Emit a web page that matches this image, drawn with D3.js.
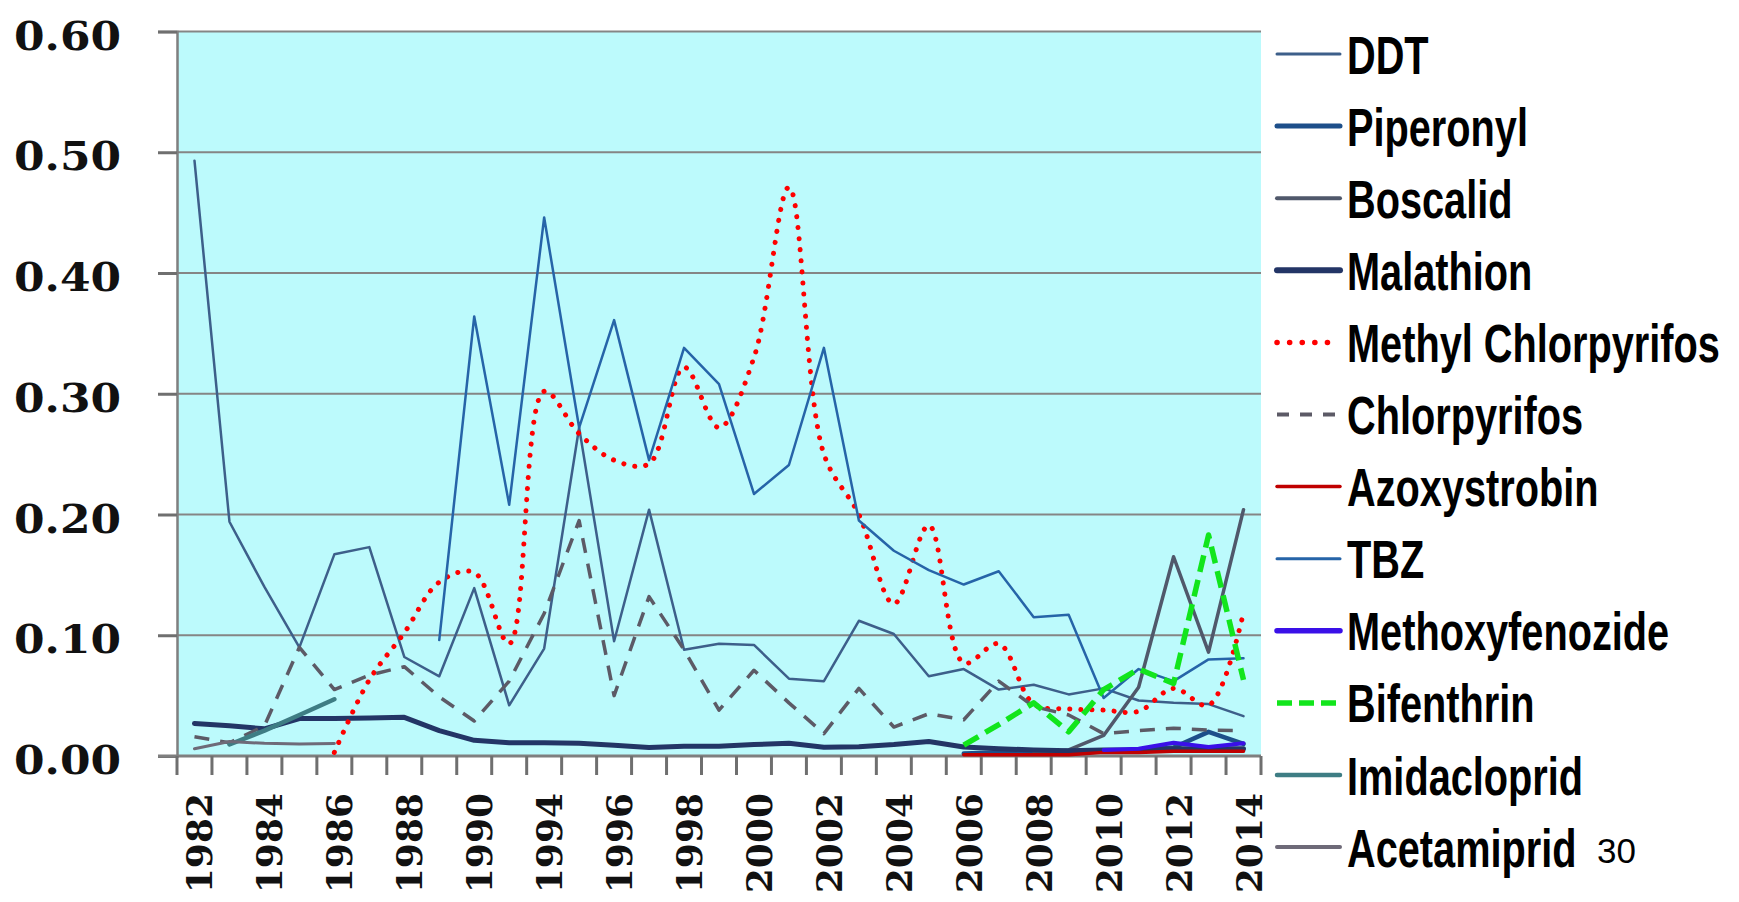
<!DOCTYPE html>
<html>
<head>
<meta charset="utf-8">
<script src="https://cdn.jsdelivr.net/npm/d3@7"></script>
<style>
  html, body { margin: 0; padding: 0; background: #ffffff; }
  svg { display: block; }
</style>
</head>
<body>
<div id="chart"></div>
<script>
// ---------------- DATA ----------------
const categories = ["1982","1983","1984","1985","1986","1987","1988","1989","1990","1992",
  "1994","1995","1996","1997","1998","1999","2000","2001","2002","2003","2004","2005",
  "2006","2007","2008","2009","2010","2011","2012","2013","2014"];
const xTickLabels = ["1982","1984","1986","1988","1990","1994","1996","1998","2000",
  "2002","2004","2006","2008","2010","2012","2014"];
const yTicks = [0, 0.1, 0.2, 0.3, 0.4, 0.5, 0.6];

const seriesNames = ["DDT","Piperonyl","Boscalid","Malathion","Methyl Chlorpyrifos",
  "Chlorpyrifos","Azoxystrobin","TBZ","Methoxyfenozide","Bifenthrin","Imidacloprid","Acetamiprid"];

const ddt = [0.493,0.194,0.140,0.090,0.167,0.173,0.082,0.066,0.139,0.042,
  0.089,0.272,0.095,0.204,0.088,0.093,0.092,0.064,0.062,0.112,0.101,0.066,
  0.072,0.055,0.059,0.051,0.056,0.046,0.044,0.043,0.033];
const piperonyl = [null,null,null,null,null,null,null,null,null,null,
  null,null,null,null,null,null,null,null,null,null,null,null,
  0.002,0.003,0.002,0.002,0.004,0.005,0.007,0.020,0.010];
const boscalid = [null,null,null,null,null,null,null,null,null,null,
  null,null,null,null,null,null,null,null,null,null,null,null,
  null,null,0.002,0.005,0.017,0.057,0.165,0.086,0.204];
const malathion = [0.027,0.025,0.0225,0.031,0.031,0.0315,0.032,0.021,0.013,0.011,
  0.011,0.0105,0.009,0.007,0.008,0.008,0.0095,0.0105,0.0072,0.0077,0.0095,0.012,
  0.0075,0.006,0.005,0.0043,0.005,0.005,0.006,0.006,0.006];
const methylChlorpyrifos = [null,null,null,null,0.003,0.063,0.102,0.144,0.152,0.093,
  0.302,0.267,0.245,0.242,0.322,0.272,0.330,0.471,0.250,0.200,0.126,0.191,
  0.077,0.093,0.043,0.039,0.038,0.037,0.056,0.042,0.119];
const chlorpyrifos = [0.016,0.011,0.025,0.090,0.055,0.067,0.074,0.049,0.029,0.062,
  0.118,0.195,0.050,0.132,0.088,0.038,0.071,0.044,0.0185,0.056,0.024,0.035,
  0.030,0.062,0.041,0.034,0.0185,0.021,0.023,0.0215,0.021];
const azoxystrobin = [null,null,null,null,null,null,null,null,null,null,
  null,null,null,null,null,null,null,null,null,null,null,null,
  0.001,0.001,0.001,0.001,0.003,0.003,0.004,0.004,0.004];
const tbz = [null,null,null,null,null,null,null,0.096,0.364,0.208,
  0.446,0.272,0.361,0.245,0.338,0.308,0.217,0.241,0.338,0.195,0.170,0.154,
  0.142,0.153,0.115,0.117,0.048,0.072,0.062,0.080,0.081];
const methoxyfenozide = [null,null,null,null,null,null,null,null,null,null,
  null,null,null,null,null,null,null,null,null,null,null,null,
  null,null,null,null,0.005,0.006,0.011,0.0075,0.0105];
const bifenthrin = [null,null,null,null,null,null,null,null,null,null,
  null,null,null,null,null,null,null,null,null,null,null,null,
  0.009,0.026,0.044,0.020,0.055,0.072,0.060,0.183,0.063];
const imidacloprid = [null,0.0095,0.021,0.034,0.047,null,null,null,null,null,
  null,null,null,null,null,null,null,null,null,null,null,null,
  null,null,null,null,null,null,null,null,null];
const acetamiprid = [0.006,0.012,0.0105,0.010,0.0103,null,null,null,null,null,
  null,null,null,null,null,null,null,null,null,null,null,null,
  null,null,null,null,null,null,null,null,null];

const seriesValues = [ddt, piperonyl, boscalid, malathion, methylChlorpyrifos,
  chlorpyrifos, azoxystrobin, tbz, methoxyfenozide, bifenthrin, imidacloprid, acetamiprid];

// ---------------- STYLES ----------------
const styles = {
  "DDT":                 {color:"#3d5f8a", w:2.5, lw:3,   dash:null},
  "Piperonyl":           {color:"#1d4f8a", w:4.5, lw:5,   dash:null},
  "Boscalid":            {color:"#50586b", w:3.5, lw:4,   dash:null},
  "Malathion":           {color:"#233566", w:5,   lw:6,   dash:null},
  "Methyl Chlorpyrifos": {color:"#ff0000", w:5,   lw:5.5, dash:"0.1 11", cap:"round", smooth:true},
  "Chlorpyrifos":        {color:"#5c5a66", w:3.5, lw:4,   dash:"15 11"},
  "Azoxystrobin":        {color:"#c00000", w:3.5, lw:3.5, dash:null},
  "TBZ":                 {color:"#2664a8", w:2.5, lw:3,   dash:null},
  "Methoxyfenozide":     {color:"#3a10e8", w:4,   lw:5.5, dash:null},
  "Bifenthrin":          {color:"#12e51c", w:5.5, lw:5.5, dash:"17 8"},
  "Imidacloprid":        {color:"#3e7d84", w:4.5, lw:4.5, dash:null},
  "Acetamiprid":         {color:"#6e6a78", w:3,   lw:4,   dash:null}
};

// ---------------- LAYOUT ----------------
const W = 1739, H = 902;
const plot = {left:177, right:1261, top:31.5, bottom:756};

const svg = d3.select("#chart").append("svg")
  .attr("width", W).attr("height", H);

const x = d3.scaleBand().domain(categories).range([plot.left, plot.right]).padding(0);
const y = d3.scaleLinear().domain([0, 0.6]).range([plot.bottom, plot.top]);
const cx = c => x(c) + x.bandwidth() / 2;

// background
svg.append("rect")
  .attr("x", plot.left).attr("y", plot.top)
  .attr("width", plot.right - plot.left).attr("height", plot.bottom - plot.top)
  .attr("fill", "#bcfafc");

// gridlines
svg.append("g").selectAll("line").data(yTicks.filter(d => d > 0)).join("line")
  .attr("x1", plot.left).attr("x2", plot.right)
  .attr("y1", d => y(d)).attr("y2", d => y(d))
  .attr("stroke", "#858585").attr("stroke-width", 2);

// y axis
const yAxis = d3.axisLeft(y).tickValues(yTicks).tickSize(19).tickPadding(0)
  .tickFormat(d3.format(".2f"));
const gy = svg.append("g").attr("transform", `translate(${plot.left},0)`).call(yAxis);
gy.select(".domain").attr("stroke", "#7f7f7f").attr("stroke-width", 2.5);
gy.selectAll(".tick line").attr("stroke", "#6f6f6f").attr("stroke-width", 3);
gy.selectAll(".tick text").remove();

// y labels
const yLab = svg.append("g");
yTicks.forEach(v => {
  yLab.append("text")
    .attr("class", "ylab")
    .attr("data-y", y(v))
    .attr("font-family", "'DejaVu Serif', 'Liberation Serif', serif")
    .attr("font-weight", "bold")
    .attr("font-size", 40)
    .attr("text-anchor", "end")
    .attr("fill", "#111")
    .text(d3.format(".2f")(v));
});
{
  const ref = yLab.select("text").node().getComputedTextLength() || 99;
  const k = 107 / ref;
  yLab.selectAll("text").attr("transform", function () {
    const yy = +this.getAttribute("data-y");
    return `translate(121,${yy + 18}) scale(${k},1)`;
  });
}

// x axis line + ticks (at category boundaries)
const boundaries = categories.map(c => x(c)).concat([plot.right]);
svg.append("line")
  .attr("x1", 158).attr("x2", plot.right)
  .attr("y1", plot.bottom).attr("y2", plot.bottom)
  .attr("stroke", "#7f7f7f").attr("stroke-width", 3);
svg.append("g").selectAll("line").data(boundaries).join("line")
  .attr("x1", d => d).attr("x2", d => d)
  .attr("y1", plot.bottom).attr("y2", plot.bottom + 19)
  .attr("stroke", "#6f6f6f").attr("stroke-width", 3);

// x labels (rotated)
const xLab = svg.append("g");
xTickLabels.forEach(lbl => {
  xLab.append("text")
    .attr("font-family", "'DejaVu Serif', 'Liberation Serif', serif")
    .attr("font-weight", "bold")
    .attr("font-size", 36)
    .attr("text-anchor", "end")
    .attr("fill", "#111")
    .attr("transform", `translate(${cx(lbl) + 18},793) rotate(-90)`)
    .text(lbl);
});

// lines
const lineLinear = d3.line()
  .defined(d => d.v != null)
  .x(d => cx(d.c)).y(d => y(d.v));
const lineSmooth = d3.line()
  .defined(d => d.v != null)
  .x(d => cx(d.c)).y(d => y(d.v))
  .curve(d3.curveCatmullRom.alpha(0.5));

const gLines = svg.append("g");
seriesNames.forEach((name, i) => {
  const st = styles[name];
  const data = categories.map((c, j) => ({c: c, v: seriesValues[i][j]}));
  gLines.append("path")
    .attr("d", (st.smooth ? lineSmooth : lineLinear)(data))
    .attr("fill", "none")
    .attr("stroke", st.color)
    .attr("stroke-width", st.w)
    .attr("stroke-linejoin", "round")
    .attr("stroke-linecap", st.cap || (st.dash ? "butt" : "round"))
    .attr("stroke-dasharray", st.dash);
});

// legend
const leg = svg.append("g");
const legY0 = 54, legStep = 72.1;
seriesNames.forEach((name, i) => {
  const st = styles[name];
  const yy = legY0 + i * legStep;
  leg.append("line")
    .attr("x1", 1277).attr("x2", 1340)
    .attr("y1", yy).attr("y2", yy)
    .attr("stroke", st.color)
    .attr("stroke-width", st.lw)
    .attr("stroke-linecap", st.cap || (st.dash ? "butt" : "round"))
    .attr("stroke-dasharray", st.dash ? (st.cap ? "0.1 12.5" : (name === "Bifenthrin" ? "15 7" : "12 11")) : null);
  leg.append("text")
    .attr("class", "legtext")
    .attr("data-y", yy + 19.5)
    .attr("font-family", "'Liberation Sans Narrow', 'Arial Narrow', 'Liberation Sans', Arial, sans-serif")
    .attr("font-weight", "bold")
    .attr("font-size", 54)
    .attr("fill", "#000")
    .text(name);
});
{
  let ref = 0;
  leg.selectAll("text").each(function () {
    if (this.textContent === "Methyl Chlorpyrifos") ref = this.getComputedTextLength();
  });
  const k = ref ? 373 / ref : 1;
  leg.selectAll("text").attr("transform", function () {
    return `translate(1347,${+this.getAttribute("data-y")}) scale(${k},1)`;
  });
}

// slide number
svg.append("text")
  .attr("x", 1597).attr("y", 863)
  .attr("font-family", "'Liberation Sans', Arial, sans-serif")
  .attr("font-size", 35)
  .attr("fill", "#000")
  .text("30");
</script>
</body>
</html>
